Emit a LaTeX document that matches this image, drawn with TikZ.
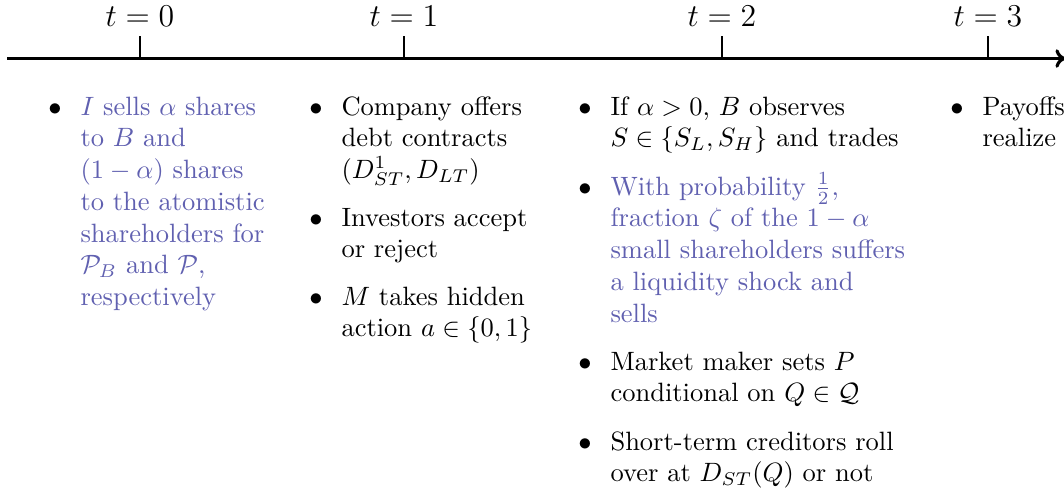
\documentclass[tikz,border=0pt]{standalone}
\usetikzlibrary{arrows.meta}
\definecolor{hl}{RGB}{96,96,176}
\begin{document}
\begin{tikzpicture}[x=0.3774pt,y=-0.3774pt,
  bul/.style={anchor=base,inner sep=0pt},
  txt/.style={anchor=base west,inner sep=0pt,text width=140pt,align=left},
  lab/.style={anchor=base,inner sep=0pt,font=\large},
  tick/.style={line width=0.4pt}]
\useasboundingbox (0,0) rectangle (1064,494);
% timeline
\coordinate (start) at (7,58.5);
\coordinate (end) at (1066,58.5);
\draw[line width=1.2pt,-{To[length=4pt,width=7pt]}] (start) -- (end);
\foreach \n/\x in {0/140,1/404,2/722,3/988}{
  \coordinate (t\n) at (\x,58.5);
  \coordinate (tt\n) at (\x,36);
  \draw[tick] (t\n) -- (tt\n);
  \node[lab] (l\n) at (\x,26) {$t=\n$};
}
% column 1
\node[bul] (b11) at (55,115) {$\bullet$};
\node[txt,text=hl] (i11) at (80,115) {$I$ sells $\alpha$ shares\\ to $B$ and\\ $(1-\alpha)$ shares\\ to the atomistic\\ shareholders for\\ $\mathcal{P}_B$ and $\mathcal{P}$,\\ respectively};
% column 2
\node[bul] (b21) at (316,115) {$\bullet$};
\node[txt] (i21) at (341,115) {Company offers\\ debt contracts\\ $(D^1_{ST},D_{LT})$};
\node[bul] (b22) at (316,226) {$\bullet$};
\node[txt] (i22) at (341,226) {Investors accept\\ or reject};
\node[bul] (b23) at (316,305) {$\bullet$};
\node[txt] (i23) at (341,305) {$M$ takes hidden\\ action $a\in\{0,1\}$};
% column 3
\node[bul] (b31) at (585,115) {$\bullet$};
\node[txt] (i31) at (610,115) {If $\alpha>0$, $B$ observes\\ $S\in\{S_L,S_H\}$ and trades};
\node[bul] (b32) at (585,195) {$\bullet$};
\node[txt,text=hl] (i32) at (610,195) {With probability $\frac{1}{2}$,\\ fraction $\zeta$ of the $1-\alpha$\\ small shareholders suffers\\ a liquidity shock and\\ sells};
\node[bul] (b33) at (585,370) {$\bullet$};
\node[txt] (i33) at (610,370) {Market maker sets $P$\\ conditional on $Q\in\mathcal{Q}$};
\node[bul] (b34) at (585,450) {$\bullet$};
\node[txt] (i34) at (610,450) {Short-term creditors roll\\ over at $D_{ST}(Q)$ or not};
% column 4
\node[bul] (b41) at (957,115) {$\bullet$};
\node[txt] (i41) at (982,115) {Payoffs\\ realize};
\end{tikzpicture}
\end{document}
